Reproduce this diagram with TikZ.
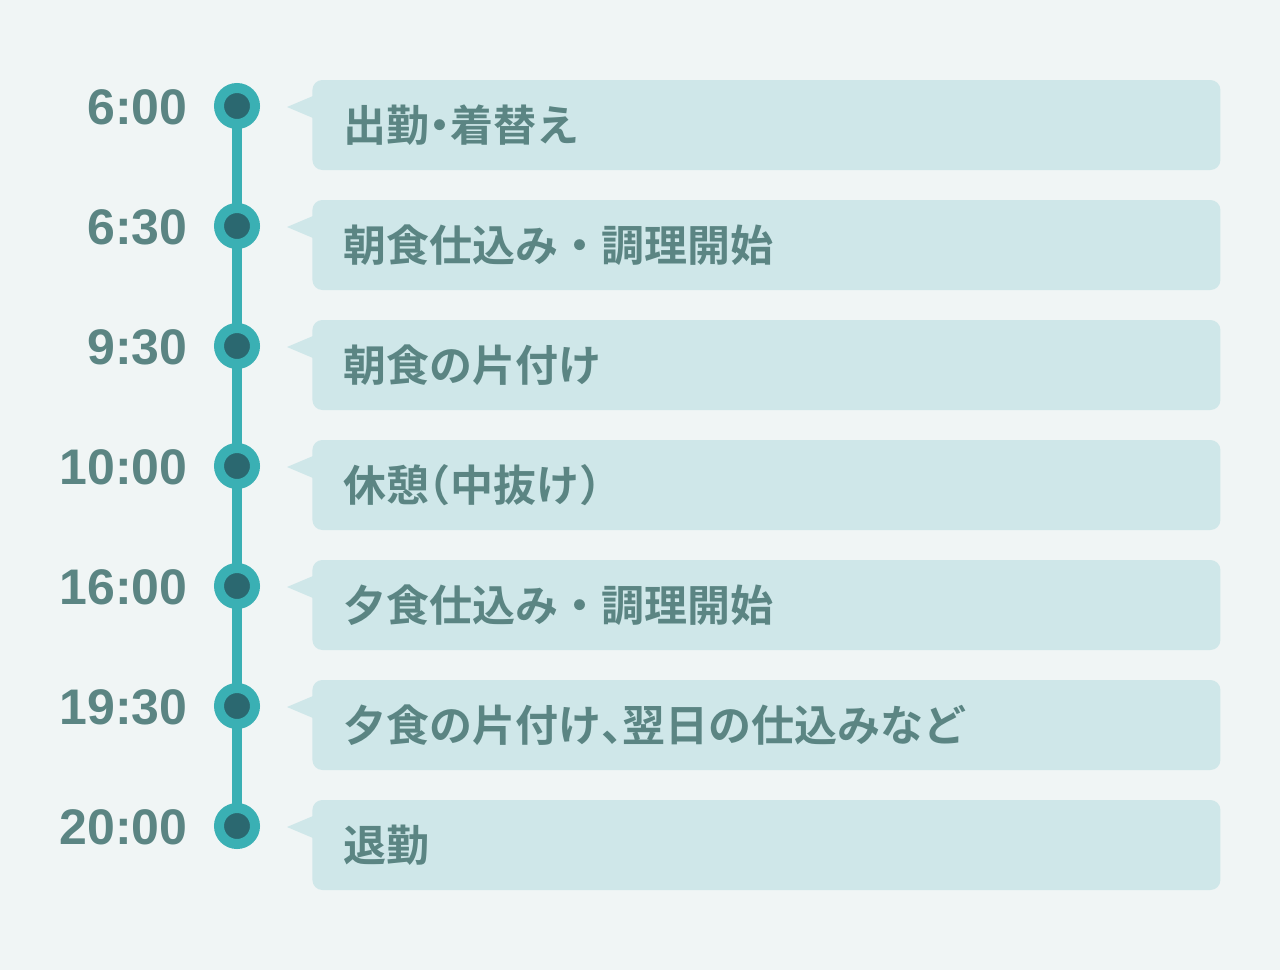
\documentclass[tikz,border=0pt]{standalone}
\usepackage{fontspec}
\setmainfont{Liberation Sans}
\newfontfamily\jpfont{Noto Sans CJK JP}[BoldFont={Noto Sans CJK JP Bold}]
\newcommand\halfw[1]{{\addfontfeature{RawFeature=+halt}#1}}
\usepackage{xcolor}
\usepackage{tikz}
\usetikzlibrary{positioning, calc}

\definecolor{bgcol}{HTML}{F0F5F5}
\definecolor{boxcol}{HTML}{CFE7E9}
\definecolor{ringcol}{HTML}{3AB0B4}
\definecolor{dotcol}{HTML}{2B6870}
\definecolor{txtcol}{HTML}{5B8583}

\begin{document}
\begin{tikzpicture}[x=0.5pt, y=-0.5pt,
  time/.style={anchor=east, inner sep=0pt, text=txtcol, font=\fontsize{25}{25}\selectfont\bfseries},
  dot/.style={circle, fill=dotcol, draw=ringcol, line width=5pt, minimum size=18pt, inner sep=0pt},
  entry/.style={anchor=west, fill=boxcol, rounded corners=5pt, minimum width=454pt, minimum height=45pt,
    text width=423pt, inner xsep=15.5pt, align=left, text=txtcol, font=\jpfont\bfseries\fontsize{21.5}{21.5}\selectfont},
  tip/.style={fill=boxcol}]
  \fill[bgcol] (0,0) rectangle (1280,970);
  \useasboundingbox (0,0) rectangle (1280,970);

  % times
  \node[time] (t1) at (188,107) {6:00};
  \node[time] (t2) at (188,227) {6:30};
  \node[time] (t3) at (188,347) {9:30};
  \node[time] (t4) at (188,467) {10:00};
  \node[time] (t5) at (188,587) {16:00};
  \node[time] (t6) at (188,707) {19:30};
  \node[time] (t7) at (188,827) {20:00};

  % boxes
  \node[entry] (b1) at (312,125) {出勤\halfw{・}着替え};
  \node[entry] (b2) at (312,245) {朝食仕込み・調理開始};
  \node[entry] (b3) at (312,365) {朝食の片付け};
  \node[entry] (b4) at (312,485) {休憩\halfw{（}中抜け\halfw{）}};
  \node[entry] (b5) at (312,605) {夕食仕込み・調理開始};
  \node[entry] (b6) at (312,725) {夕食の片付け\halfw{、}翌日の仕込みなど};
  \node[entry] (b7) at (312,845) {退勤};

  % pointers
  \fill[tip] ($(b1.west)+(-25,-18)$) -- ($(b1.west)+(1,-29)$) -- ($(b1.west)+(1,-7)$) -- cycle;
  \fill[tip] ($(b2.west)+(-25,-18)$) -- ($(b2.west)+(1,-29)$) -- ($(b2.west)+(1,-7)$) -- cycle;
  \fill[tip] ($(b3.west)+(-25,-18)$) -- ($(b3.west)+(1,-29)$) -- ($(b3.west)+(1,-7)$) -- cycle;
  \fill[tip] ($(b4.west)+(-25,-18)$) -- ($(b4.west)+(1,-29)$) -- ($(b4.west)+(1,-7)$) -- cycle;
  \fill[tip] ($(b5.west)+(-25,-18)$) -- ($(b5.west)+(1,-29)$) -- ($(b5.west)+(1,-7)$) -- cycle;
  \fill[tip] ($(b6.west)+(-25,-18)$) -- ($(b6.west)+(1,-29)$) -- ($(b6.west)+(1,-7)$) -- cycle;
  \fill[tip] ($(b7.west)+(-25,-18)$) -- ($(b7.west)+(1,-29)$) -- ($(b7.west)+(1,-7)$) -- cycle;

  % timeline
  \coordinate (top) at (237,106);
  \coordinate (bot) at (237,826);
  \draw[ringcol, line width=5pt] (top) -- (bot);
  \node[dot] (d1) at (237,106) {};
  \node[dot] (d2) at (237,226) {};
  \node[dot] (d3) at (237,346) {};
  \node[dot] (d4) at (237,466) {};
  \node[dot] (d5) at (237,586) {};
  \node[dot] (d6) at (237,706) {};
  \node[dot] (d7) at (237,826) {};
\end{tikzpicture}
\end{document}
